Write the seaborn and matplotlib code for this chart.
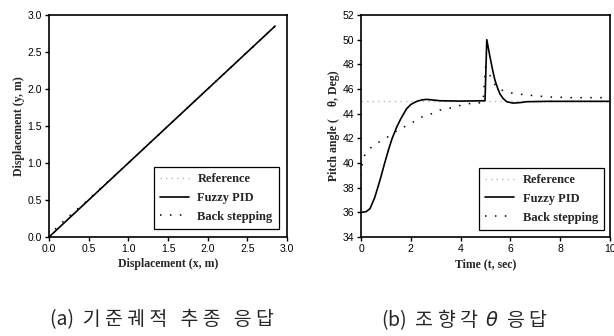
import numpy as np
import pandas as pd
import matplotlib.pyplot as plt
import seaborn as sns

# (a) 기준궤적 추종 응답 - x/y displacement
traj_x = [0.0, 0.5, 1.0, 1.5, 2.0, 2.5, 2.85]
traj_ref_y = [0.0, 0.5, 1.0, 1.5, 2.0, 2.5, 2.85]
traj_fuzzy_y = [0.0, 0.5, 1.0, 1.5, 2.0, 2.5, 2.85]
traj_back_x = [0.0, 0.05, 0.1, 0.2, 0.35, 0.5, 1.0, 1.5, 2.0, 2.5, 2.85]
traj_back_y = [0.0, 0.08, 0.13, 0.23, 0.37, 0.51, 1.0, 1.5, 2.0, 2.5, 2.85]

# (b) 조향각 응답 - pitch angle vs time
ref_t = [0.0, 10.0]
ref_theta = [45.0, 45.0]
fuzzy_t = [0.0, 0.2, 0.36, 0.55, 0.76, 0.95, 1.1, 1.25, 1.43, 1.6, 1.83, 2.0, 2.24, 2.45, 2.64,
           3.17, 4.0, 4.98, 5.05, 5.18, 5.3, 5.38, 5.5, 5.58, 5.7, 5.85, 6.1, 6.4, 6.65, 7.5, 10.0]
fuzzy_theta = [36.0, 36.05, 36.3, 37.2, 38.6, 40.0, 41.05, 42.0, 42.9, 43.6, 44.4, 44.75, 45.0, 45.12, 45.16,
               45.05, 45.02, 45.05, 50.0, 48.6, 47.4, 46.7, 46.0, 45.6, 45.25, 44.97, 44.86, 44.9, 44.97, 45.0, 45.0]
back_t = [0.0, 0.05, 0.1, 0.36, 0.72, 1.06, 1.43, 1.8, 2.17, 2.5, 2.84, 3.17, 3.5, 3.84, 4.24, 4.58, 4.9,
          5.0, 5.1, 5.2, 5.45, 5.78, 6.1, 6.5, 7.0, 7.6, 8.5, 10.0]
back_theta = [39.0, 40.0, 40.5, 41.2, 41.7, 42.1, 42.6, 43.0, 43.4, 43.8, 44.0, 44.3, 44.4, 44.6, 44.8, 44.85, 44.9,
              47.8, 47.5, 47.0, 46.1, 45.8, 45.65, 45.55, 45.45, 45.35, 45.3, 45.3]

sns.set_style("ticks")
plt.rcParams['font.family'] = ['Liberation Sans', 'DejaVu Sans']

fig = plt.figure(figsize=(6.14, 3.36), dpi=100)
ax1 = fig.add_axes([0.0798, 0.2946, 0.3876, 0.6607])
ax2 = fig.add_axes([0.588, 0.2946, 0.4055, 0.6607])

ref_style = dict(color='#b8b8b8', linewidth=1.0, linestyle=(0, (1, 3)))
fuzzy_style = dict(color='black', linewidth=1.2, linestyle='-')
back_style = dict(color='black', linewidth=1.1, linestyle=(0, (1, 5.5)))

# 왼쪽 그래프
sns.lineplot(x=traj_x, y=traj_ref_y, ax=ax1, label='Reference', **ref_style)
sns.lineplot(x=traj_x, y=traj_fuzzy_y, ax=ax1, label='Fuzzy PID', **fuzzy_style)
sns.lineplot(x=traj_back_x, y=traj_back_y, ax=ax1, label='Back stepping', **back_style)
ax1.set_xlim(0, 3.0)
ax1.set_ylim(0, 3.0)
ax1.set_xticks(np.arange(0, 3.01, 0.5))
ax1.set_yticks(np.arange(0, 3.01, 0.5))
ax1.set_xticklabels(['0.0', '0.5', '1.0', '1.5', '2.0', '2.5', '3.0'])
ax1.set_yticklabels(['0.0', '0.5', '1.0', '1.5', '2.0', '2.5', '3.0'])
ax1.set_xlabel('Displacement (x, m)')
ax1.set_ylabel('Displacement (y, m)')

# 오른쪽 그래프
sns.lineplot(x=ref_t, y=ref_theta, ax=ax2, label='Reference', sort=False, **ref_style)
sns.lineplot(x=fuzzy_t, y=fuzzy_theta, ax=ax2, label='Fuzzy PID', sort=False, **fuzzy_style)
sns.lineplot(x=back_t, y=back_theta, ax=ax2, label='Back stepping', sort=False, **back_style)
ax2.set_xlim(0, 10)
ax2.set_ylim(34, 52)
ax2.set_xticks(range(0, 11, 2))
ax2.set_yticks(range(34, 53, 2))
ax2.set_xlabel('Time (t, sec)')
ax2.set_ylabel('Pitch angle (    θ, Deg)')

legend_anchor = {ax1: (0.966, 0.036), ax2: (0.976, 0.032)}
for ax in (ax1, ax2):
    for sp in ax.spines.values():
        sp.set_visible(True)
        sp.set_linewidth(1.2)
        sp.set_color('black')
    ax.tick_params(direction='out', length=3, width=1, labelsize=7.5, pad=2, colors='black')
    for lab in (ax.xaxis.label, ax.yaxis.label):
        lab.set_fontfamily(['Liberation Serif'])
        lab.set_fontweight('bold')
        lab.set_fontsize(8.5)
    ax.xaxis.labelpad = 3
    ax.yaxis.labelpad = 2
    leg = ax.legend(loc='lower right', bbox_to_anchor=legend_anchor[ax], borderaxespad=0,
                    fancybox=False, framealpha=1, edgecolor='black', handlelength=2.3,
                    handletextpad=0.7, borderpad=0.5, labelspacing=0.55,
                    prop={'family': 'Liberation Serif', 'weight': 'bold', 'size': 9})
    leg.get_frame().set_linewidth(0.9)

# 그림 설명
fig.text(0.264, 0.05, '(a)  기 준 궤 적   추 종   응 답', ha='center', va='center', fontsize=14,
         family=['Noto Sans CJK KR', 'DejaVu Sans'])
fig.text(0.756, 0.05, '(b)  조 향 각  $\\theta$  응 답', ha='center', va='center', fontsize=14,
         family=['Noto Sans CJK KR', 'DejaVu Sans'])

plt.savefig('out.png', dpi=100)
